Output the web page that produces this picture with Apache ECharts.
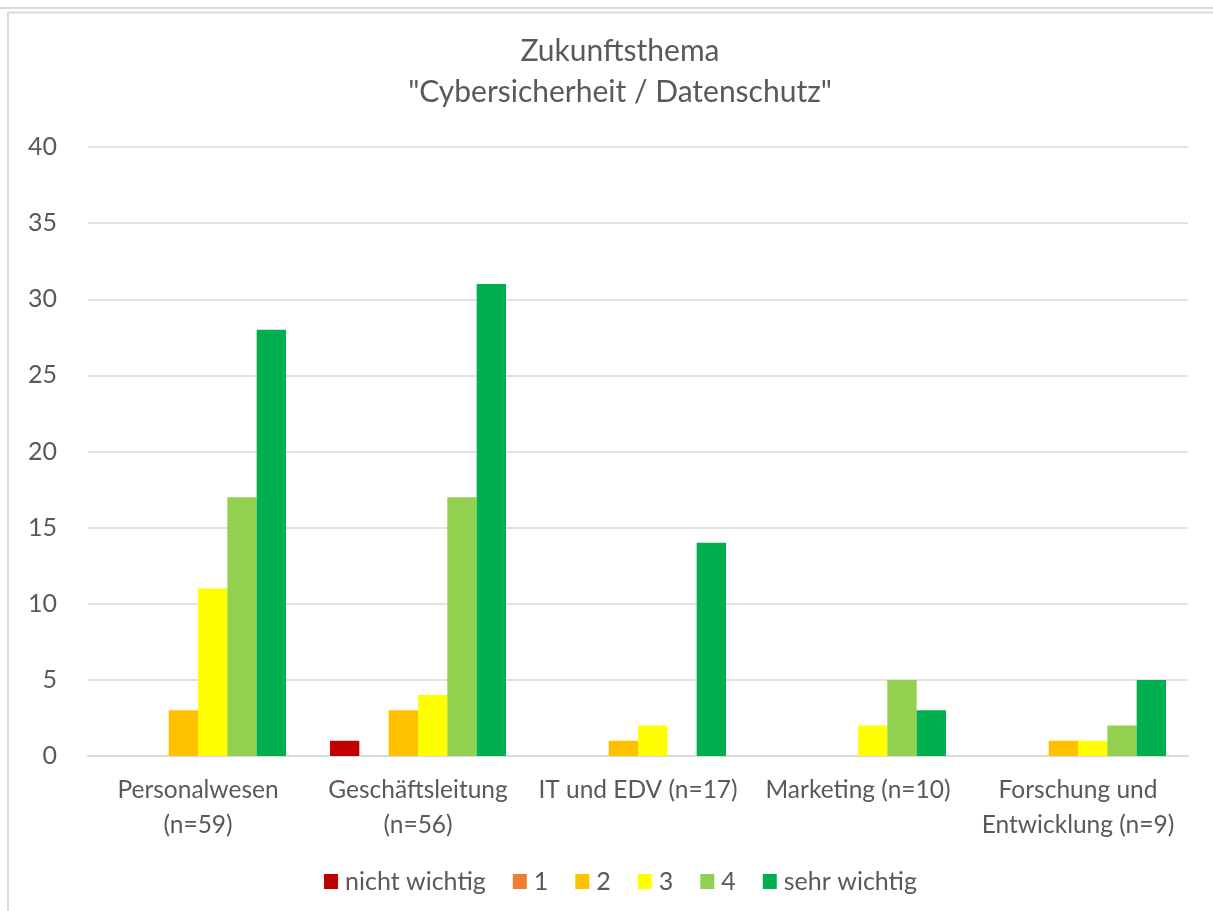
<!DOCTYPE html>
<html>
<head>
<meta charset="utf-8">
<script src="https://cdn.jsdelivr.net/npm/echarts@6/dist/echarts.min.js"></script>
<style>
  html, body { margin: 0; padding: 0; background: #fff; }
  #main { width: 1213px; height: 911px; }
</style>
</head>
<body>
<div id="main"></div>
<script>
var categories = ['Personalwesen\n(n=59)', 'Geschäftsleitung\n(n=56)', 'IT und EDV (n=17)', 'Marketing (n=10)', 'Forschung und\nEntwicklung (n=9)'];
var seriesNames = ['nicht wichtig', '1', '2', '3', '4', 'sehr wichtig'];
var colors = ['#c00000', '#ed7d31', '#ffc000', '#ffff00', '#92d050', '#00b050'];

var nichtWichtig = [0, 1, 0, 0, 0];
var wert1 = [0, 0, 0, 0, 0];
var wert2 = [3, 3, 1, 0, 1];
var wert3 = [11, 4, 2, 2, 1];
var wert4 = [17, 17, 0, 5, 2];
var sehrWichtig = [28, 31, 14, 3, 5];

var yTicks = [0, 5, 10, 15, 20, 25, 30, 35, 40];

var values = [nichtWichtig, wert1, wert2, wert3, wert4, sehrWichtig];
var font = 'Lato, "Open Sans", sans-serif';

var myChart = echarts.init(document.getElementById('main'));

var series = [];
for (var i = 0; i < seriesNames.length; i++) {
  series.push({
    name: seriesNames[i],
    type: 'bar',
    barGap: '0%',
    barCategoryGap: '20%',
    itemStyle: { color: colors[i] },
    data: values[i]
  });
}

var option = {
  animation: false,
  textStyle: { fontFamily: font },
  graphic: [
    { type: 'line', shape: { x1: 0, y1: 8, x2: 1213, y2: 8 }, style: { stroke: '#d9d9d9', lineWidth: 2 } },
    { type: 'polyline', shape: { points: [[8, 911], [8, 12.5], [1213, 12.5]] }, style: { stroke: '#d9d9d9', lineWidth: 2, fill: null } }
  ],
  title: {
    text: 'Zukunftsthema\n"Cybersicherheit / Datenschutz"',
    left: 615,
    top: 26,
    textAlign: 'center',
    textStyle: { fontFamily: font, fontSize: 30, fontWeight: 'normal', color: '#595959', lineHeight: 41 }
  },
  legend: {
    bottom: 12,
    left: 319,
    itemWidth: 14,
    itemHeight: 15,
    itemGap: 27,
    icon: 'rect',
    textStyle: { fontFamily: font, fontSize: 25, color: '#595959', padding: [0, 0, 0, 2] },
    data: seriesNames
  },
  grid: { left: 88, right: 25, top: 147, bottom: 155 },
  xAxis: {
    type: 'category',
    data: categories,
    axisLine: { lineStyle: { color: '#d9d9d9', width: 2 } },
    axisTick: { show: false },
    axisLabel: { fontFamily: font, fontSize: 24.5, color: '#595959', lineHeight: 35, margin: 17, interval: 0 }
  },
  yAxis: {
    type: 'value',
    min: yTicks[0],
    max: yTicks[yTicks.length - 1],
    interval: yTicks[1] - yTicks[0],
    axisLine: { show: false },
    axisTick: { show: false },
    axisLabel: { fontFamily: font, fontSize: 25, color: '#595959', margin: 31 },
    splitLine: { lineStyle: { color: '#d9d9d9', width: 1.5 } }
  },
  series: series
};

myChart.setOption(option);
</script>
</body>
</html>
